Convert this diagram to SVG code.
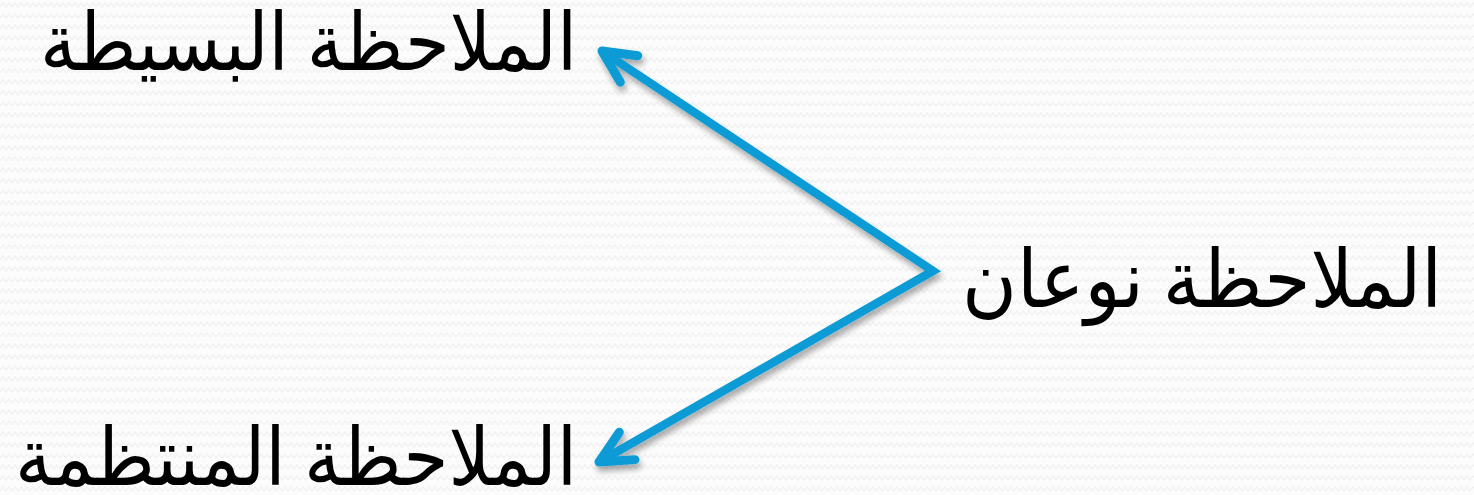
<svg xmlns="http://www.w3.org/2000/svg" width="1474" height="495" viewBox="0 0 1474 495">
<style>
.lbl{font-family:"Liberation Serif","DejaVu Sans",serif;font-size:80px;fill:#000;}
.conn{stroke:#0a9bd6;stroke-width:8.5;fill:none;stroke-linejoin:miter;stroke-miterlimit:10;}
.head{stroke:#0a9bd6;stroke-width:9;fill:none;stroke-linecap:round;stroke-linejoin:round;}
</style>
<defs>
<pattern id="bg" width="12" height="11" patternUnits="userSpaceOnUse">
<rect width="12" height="11" fill="#fcfcfc"/>
<path d="M0,7 L3,3 L6,7 L9,3 L12,7" stroke="#f0f0f0" stroke-width="1.2" fill="none"/>
</pattern>
<marker id="arr" markerUnits="userSpaceOnUse" markerWidth="60" markerHeight="60" viewBox="-45 -30 60 60" refX="0" refY="0" orient="auto-start-reverse">
<path class="head" d="M-32.4,-15.8 L0,0 L-32.4,15.8"/>
</marker>
<filter id="sh" x="-10%" y="-10%" width="120%" height="130%">
<feGaussianBlur in="SourceAlpha" stdDeviation="3"/>
<feOffset dx="2" dy="5" result="b"/>
<feComponentTransfer><feFuncA type="linear" slope="0.35"/></feComponentTransfer>
<feMerge><feMergeNode/><feMergeNode in="SourceGraphic"/></feMerge>
</filter>
</defs>
<rect width="1474" height="495" fill="url(#bg)"/>
<g id="connectors" filter="url(#sh)">
<path class="conn" d="M602,51 L933,271 L599,462" marker-start="url(#arr)" marker-end="url(#arr)"/>
</g>
<g id="node-main"><text class="lbl" x="1442" y="307" direction="rtl" text-anchor="start" textLength="480" lengthAdjust="spacingAndGlyphs">الملاحظة نوعان</text></g>
<g id="node-simple"><text class="lbl" x="577" y="70" direction="rtl" text-anchor="start" textLength="537" lengthAdjust="spacingAndGlyphs">الملاحظة البسيطة</text></g>
<g id="node-systematic"><text class="lbl" x="577" y="485" direction="rtl" text-anchor="start" textLength="562" lengthAdjust="spacingAndGlyphs">الملاحظة المنتظمة</text></g>
</svg>
